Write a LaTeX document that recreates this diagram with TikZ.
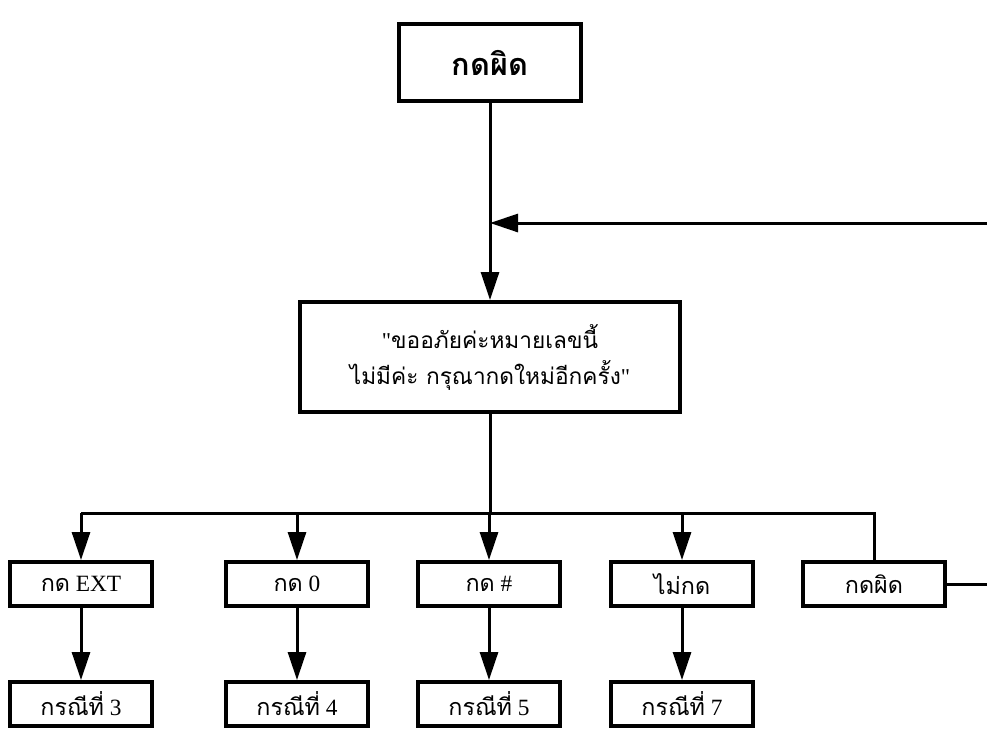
\documentclass[tikz,border=0pt]{standalone}
\usepackage{fontspec}
\setmainfont{Liberation Serif}
\newfontfamily\thaifont[Script=Thai]{Loma}
\usetikzlibrary{arrows.meta, positioning}
\newcommand{\thai}[1]{{\thaifont #1}}
\tikzset{
  box/.style = {
    draw,
    line width=3pt,
    minimum width=107pt,
    minimum height=33pt,
    inner sep=0pt,
    font=\fontsize{17.5}{20}\selectfont,
  },
  titlebox/.style = {
    box,
    minimum width=136.5pt,
    minimum height=57.75pt,
    font=\fontsize{23}{27}\selectfont\bfseries,
  },
  msgbox/.style = {
    box,
    align=center,
    minimum width=285pt,
    minimum height=82.5pt,
    font=\fontsize{17}{27}\selectfont,
  },
  wire/.style = {
    line width=2.25pt,
  },
  flow/.style = {
    wire,
    -{Triangle[length=21pt, width=13.5pt]},
  },
  node distance=54pt,
}
\begin{document}
\begin{tikzpicture}[x=0.75pt, y=-0.75pt]
\clip (0,0) rectangle (987,729);

\node[titlebox] (top) at (490,62.5) {\thai{กดผิด}};
\node[msgbox] (msg) at (490,357) {\textquotedbl\thai{ขออภัยค่ะหมายเลขนี้}\\\thai{ไม่มีค่ะ กรุณากดใหม่อีกครั้ง}\textquotedbl};
\draw[flow] (top) -- (msg);

% choices
\node[box] (ext) at (81,584) {\thai{กด} EXT};
\node[box] (zero) at (297,584) {\thai{กด} 0};
\node[box] (hash) at (489,584) {\thai{กด} \#};
\node[box] (none) at (682,584) {\thai{ไม่กด}};
\node[box] (wrong) at (874,584) {\thai{กดผิด}};

\coordinate (bus) at (490,513);
\draw[wire] (msg) -- (bus);
\draw[wire] (bus -| ext) -- (bus -| wrong) -- (wrong);
\foreach \n in {ext, zero, hash, none}
  \draw[flow] (bus -| \n) -- (\n);

% cases
\node[box, below=of ext] (case3) {\thai{กรณีที่} 3};
\node[box, below=of zero] (case4) {\thai{กรณีที่} 4};
\node[box, below=of hash] (case5) {\thai{กรณีที่} 5};
\node[box, below=of none] (case7) {\thai{กรณีที่} 7};
\draw[flow] (ext) -- (case3);
\draw[flow] (zero) -- (case4);
\draw[flow] (hash) -- (case5);
\draw[flow] (none) -- (case7);

% back to the message
\coordinate (loop) at (1000,223);
\draw[flow] (wrong.east) -| (loop) -- (loop -| top);

\end{tikzpicture}
\end{document}
